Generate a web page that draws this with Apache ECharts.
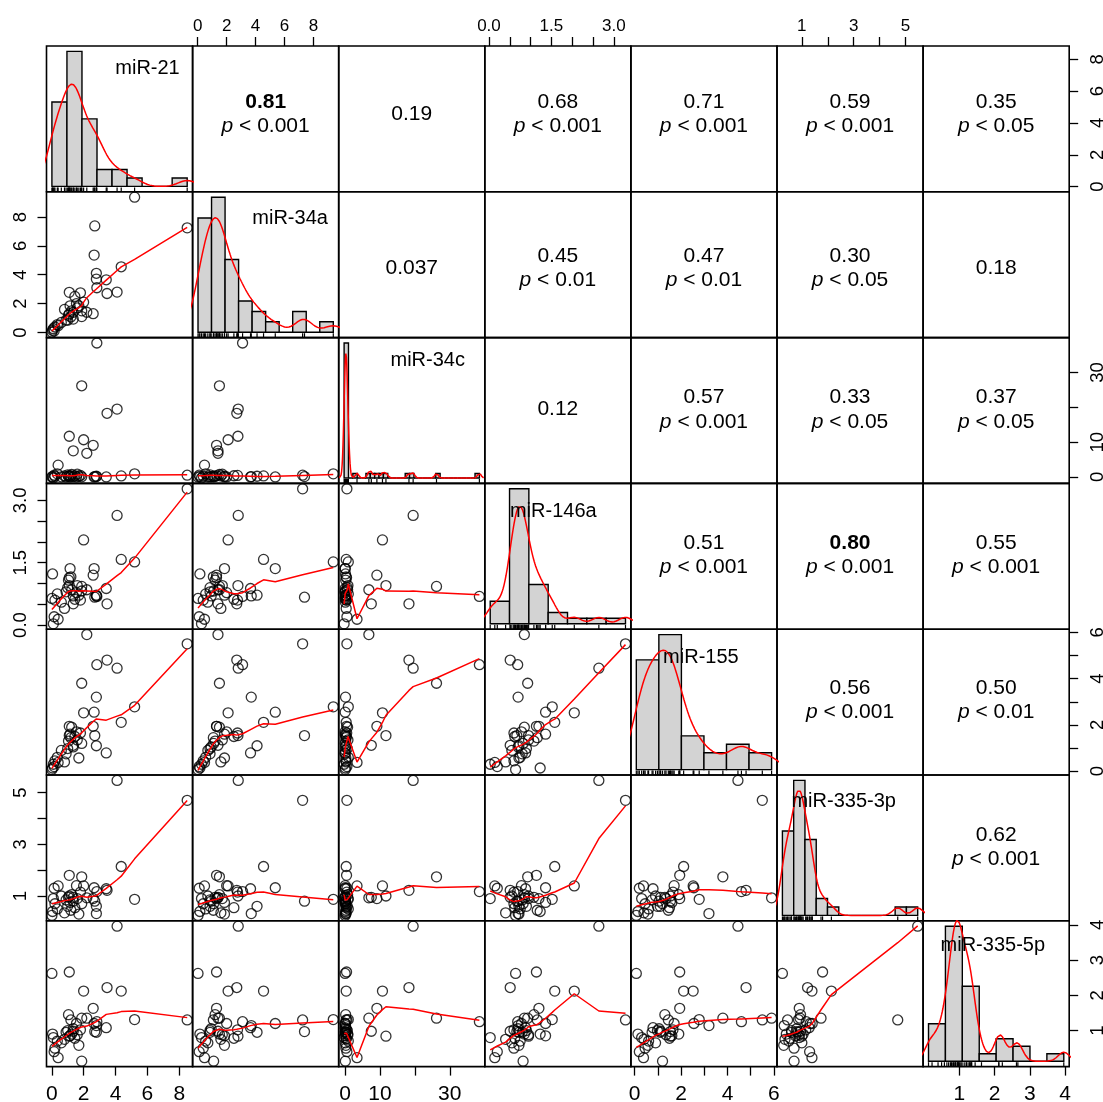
<!DOCTYPE html>
<html><head><meta charset="utf-8">
<script src="https://cdn.jsdelivr.net/npm/echarts@6/dist/echarts.min.js"></script>
<style>html,body{margin:0;padding:0;background:#fff}#c{width:1103px;height:1102px}</style>
</head><body><div id="c"></div>
<script>
// ---- data (40 samples, index-aligned) ----
const varNames = ['miR-21','miR-34a','miR-34c','miR-146a','miR-155','miR-335-3p','miR-335-5p'];
const miR21   = [8.5,5.2,2.7,2.66,4.36,2.8,3.42,2.8,2.83,1.88,4.1,3.47,1.1,2.0,2.6,1.35,2.2,0.4,
                 0.01,0.05,0.1,0.15,0.2,0.35,0.6,0.8,0.9,1.0,1.05,1.1,1.15,1.2,1.25,1.35,1.45,1.55,1.6,1.7,1.8,1.88];
const miR34a  = [7.25,9.37,7.38,5.36,4.55,3.7,3.65,4.1,3.1,1.5,2.8,2.7,2.78,2.1,1.3,1.4,1.4,0.47,
                 0.02,0.15,0.26,0.1,0.38,0.55,0.7,1.6,0.85,0.85,1.2,1.3,1.85,1.08,1.5,0.93,2.5,2.0,1.7,1.85,2.75,1.1];
const miR34c  = [0.5,0.9,0.1,0.0,0.3,0.1,0.0,0.2,38.5,26.2,19.5,18.3,11.7,10.7,9.1,7.5,6.8,3.4,
                 0.0,0.1,-0.3,0.5,0.2,0.9,0.05,0.3,0.0,0.6,0.15,0.4,0.0,0.25,0.7,0.1,0.35,0.0,0.8,0.2,0.45,0.05];
const miR146a = [3.28,1.52,0.67,1.36,1.58,0.7,0.88,0.72,0.69,0.93,2.64,0.51,0.95,2.05,1.2,0.51,0.85,0.14,
                 0.64,1.23,0.03,0.2,0.6,0.75,0.55,0.4,0.8,0.9,1.08,1.14,1.36,1.16,0.85,0.7,0.62,0.78,0.95,0.72,0.6,0.82];
const miR155  = [5.5,2.78,1.54,2.55,2.11,3.2,0.79,1.1,4.6,3.8,4.45,4.8,1.54,2.52,1.94,1.12,5.9,0.38,
                 0.07,0.14,0.3,0.2,0.45,0.6,0.9,0.4,0.75,0.98,1.3,1.94,1.6,1.45,1.9,1.05,1.5,1.7,1.35,0.57,1.65,1.2];
const miR335_3p = [4.7,0.87,0.8,1.32,2.14,0.32,1.28,0.6,1.17,1.74,5.47,1.22,1.0,1.39,0.9,0.95,0.93,1.39,
                 0.25,0.4,0.9,1.3,0.7,0.5,1.0,0.35,0.85,0.6,0.95,1.8,0.75,0.45,1.05,0.8,0.55,1.4,0.9,0.3,1.15,0.7];
const miR335_5p = [1.3,1.31,0.97,1.2,2.12,1.14,1.08,0.95,1.25,1.35,3.96,2.22,0.84,2.12,1.63,0.98,1.35,0.23,
                 2.62,0.9,0.8,0.4,0.5,0.7,0.65,0.75,0.95,1.0,1.45,2.66,0.85,1.3,0.9,1.05,0.78,1.2,0.88,0.58,1.02,0.13];

// correlation text (upper triangle, row by row)
const corrR = ['0.81','0.19','0.68','0.71','0.59','0.35','0.037','0.45','0.47','0.30','0.18','0.12','0.57','0.33','0.37','0.51','0.80','0.55','0.56','0.50','0.62'];
const corrP = ['< 0.001','','< 0.001','< 0.001','< 0.001','< 0.05','','< 0.01','< 0.01','< 0.05','','','< 0.001','< 0.05','< 0.05','< 0.001','< 0.001','< 0.001','< 0.001','< 0.01','< 0.001'];
const corrBold = [1,0,0,0,0,0,0,0,0,0,0,0,0,0,0,0,1,0,0,0,0];

// axis ticks / labels per variable
const tickVals  = [[0,2,4,6,8],[0,2,4,6,8],[0,10,20,30],[0,0.5,1,1.5,2,2.5,3],[0,1,2,3,4,5,6],[1,2,3,4,5],[1,2,3,4]];
const labelVals = [[0,2,4,6,8],[0,2,4,6,8],[0,10,30],[0,1.5,3],[0,2,4,6],[1,3,5],[1,2,3,4]];
const labelDec  = [0,0,0,1,0,0,0];
const histBins  = [9,10,31,7,6,12,8];

// ---- layout ----
const vars = [miR21,miR34a,miR34c,miR146a,miR155,miR335_3p,miR335_5p];
const NV = 7;
const X0 = 46.5, Y0 = 46, W = 146.1, H = 145.8;
const FONT = '"Liberation Sans", Arial, Helvetica, sans-serif';
const diagLabelPos = [[101,22.5],[97.5,26.5],[89,23],[68.5,28.5],[70,28],[66.7,26],[69.7,24.5]];
const rowShift = [-4.5,3.5,-1,-1,-2,-0.5,0];

// ---- stats helpers ----
const ext = v => { const mn=Math.min(...v), mx=Math.max(...v), r=mx-mn; return [mn-0.04*r, mx+0.04*r]; };
const ranges = vars.map(ext);
function quantile(x,p){ const s=x.slice().sort((a,b)=>a-b); const h=(s.length-1)*p; const lo=Math.floor(h); return lo+1<s.length? s[lo]+(h-lo)*(s[lo+1]-s[lo]) : s[lo]; }
function sd(x){ const m=x.reduce((a,b)=>a+b,0)/x.length; return Math.sqrt(x.reduce((a,b)=>a+(b-m)*(b-m),0)/(x.length-1)); }
function bwNrd0(x){ const s=sd(x); const q=quantile(x,.75)-quantile(x,.25); let lo=Math.min(s,q/1.34); if(!(lo>0)) lo = s||Math.abs(x[0])||1; return 0.9*lo*Math.pow(x.length,-0.2); }
function kde(x){ const bw=bwNrd0(x); const lo=Math.min(...x)-3*bw, hi=Math.max(...x)+3*bw; const out=[];
  for(let k=0;k<512;k++){ const t=lo+(hi-lo)*k/511; let s=0; for(const v of x){ const z=(t-v)/bw; s+=Math.exp(-0.5*z*z);} out.push([t, s/(x.length*bw*Math.sqrt(2*Math.PI))]); }
  return out; }
function hist(x,nb){ const mn=Math.min(...x), mx=Math.max(...x), w=(mx-mn)/nb; const c=new Array(nb).fill(0);
  for(const v of x){ let k=Math.ceil((v-mn)/w - 1e-9)-1; if(k<0)k=0; if(k>=nb)k=nb-1; c[k]++; }
  return c.map((n,k)=>[mn+k*w, mn+(k+1)*w, n/(x.length*w)]); }
function lowest(x,y,n,xs,nleft,nright,w,userw,rw){
  const range=x[n-1]-x[0]; const h=Math.max(xs-x[nleft], x[nright]-xs); const h9=.999*h, h1=.001*h;
  let a=0, j=nleft;
  while(j<n){ w[j]=0; const r=Math.abs(x[j]-xs);
    if(r<=h9){ w[j] = r<=h1 ? 1 : Math.pow(1-Math.pow(r/h,3),3); if(userw) w[j]*=rw[j]; a+=w[j]; }
    else if(x[j]>xs) break; j++; }
  const nrt=j-1; if(a<=0) return null;
  for(j=nleft;j<=nrt;j++) w[j]/=a;
  if(h>0){ a=0; for(j=nleft;j<=nrt;j++) a+=w[j]*x[j]; let b=xs-a, c=0;
    for(j=nleft;j<=nrt;j++) c+=w[j]*(x[j]-a)*(x[j]-a);
    if(Math.sqrt(c)>.001*range){ b/=c; for(j=nleft;j<=nrt;j++) w[j]*=(b*(x[j]-a)+1); } }
  let ys=0; for(j=nleft;j<=nrt;j++) ys+=w[j]*y[j]; return ys; }
function lowess(xin,yin,f=2/3,nsteps=3){
  const n=xin.length; const idx=[...Array(n).keys()].sort((i,j)=>xin[i]-xin[j]);
  const x=idx.map(i=>xin[i]), y=idx.map(i=>yin[i]);
  const delta=0.01*(x[n-1]-x[0]); const ns=Math.max(2,Math.min(n,Math.floor(f*n+1e-7)));
  const ys=new Array(n).fill(0), rw=new Array(n).fill(1), res=new Array(n).fill(0), w=new Array(n).fill(0);
  for(let iter=1; iter<=nsteps+1; iter++){
    let nleft=0, nright=ns-1, last=-1, i=0;
    for(;;){
      if(nright<n-1){ const d1=x[i]-x[nleft], d2=x[nright+1]-x[i]; if(d1>d2){ nleft++; nright++; continue; } }
      const v=lowest(x,y,n,x[i],nleft,nright,w,iter>1,rw); ys[i]= v===null? y[i] : v;
      if(last<i-1){ const den=x[i]-x[last]; for(let j=last+1;j<i;j++){ const al=(x[j]-x[last])/den; ys[j]=al*ys[i]+(1-al)*ys[last]; } }
      last=i; const cut=x[last]+delta;
      for(i=last+1;i<n;i++){ if(x[i]>cut) break; if(x[i]===x[last]){ ys[i]=ys[last]; last=i; } }
      i=Math.max(last+1,i-1);
      if(last>=n-1) break;
    }
    for(let k=0;k<n;k++) res[k]=y[k]-ys[k];
    let sc=0; for(let k=0;k<n;k++) sc+=Math.abs(res[k]); sc/=n;
    if(iter>nsteps) break;
    const srt=res.map(Math.abs).sort((a,b)=>a-b); const m1=Math.floor(n/2);
    const cmad = n%2===0 ? 3*(srt[m1]+srt[n-m1-1]) : 6*srt[m1];
    if(cmad<1e-7*sc) break;
    const c9=.999*cmad, c1=.001*cmad;
    for(let k=0;k<n;k++){ const r=Math.abs(res[k]); rw[k]= r<=c1?1: r<=c9? Math.pow(1-Math.pow(r/cmad,2),2):0; }
  }
  return x.map((v,k)=>[v,ys[k]]);
}

// ---- build option ----
const grids=[], xAxes=[], yAxes=[], series=[], graphic=[];
function axisCfg(kind, gi, v, pos, show, fontSize, margin){
  return { type:'value', gridIndex:gi, min:ranges[v][0], max:ranges[v][1], position:pos,
    axisLine:{show:false, onZero:false}, splitLine:{show:false},
    axisTick:{show:show, length:9, inside:false, lineStyle:{color:'#000',width:1.3}, customValues:tickVals[v]},
    axisLabel:{show:show, customValues:labelVals[v], formatter:(val)=> labelDec[v]? Number(val).toFixed(1): String(Math.round(val)),
      color:'#000', fontSize:fontSize, fontFamily:FONT, margin:margin, rotate: kind==='y'?90:0 } };
}
for(let i=0;i<NV;i++){
  for(let j=0;j<NV;j++){
    const gi=i*NV+j;
    grids.push({left:X0+j*W, top:Y0+i*H, width:W, height:H, show:true, borderColor:'#000', borderWidth:1.6,
      backgroundColor:'rgba(0,0,0,0)', containLabel:false, outerBoundsMode:'none'});
    let xShow=false, xPos='bottom', xFs=17, xM=12;
    if(i===0 && j%2===1){ xShow=true; xPos='top'; xFs=17; xM=11; }
    if(i===NV-1 && j%2===0){ xShow=true; xPos='bottom'; xFs=21; xM=17; }
    xAxes.push(axisCfg('x', gi, j, xPos, xShow, xFs, xM));
    if(i===j){
      const hb=hist(vars[i],histBins[i]); const M=Math.max(...hb.map(b=>b[2]));
      yAxes.push({type:'value', gridIndex:gi, min:-0.04*M, max:1.04*M, show:false, splitLine:{show:false}, axisLine:{onZero:false}});
      series.push({type:'custom', xAxisIndex:gi, yAxisIndex:gi, clip:true, data:hb, encode:{x:[0,1],y:2},
        renderItem:(p,api)=>{ const a=api.coord([api.value(0),0]), b=api.coord([api.value(1),api.value(2)]);
          return {type:'rect', shape:{x:a[0],y:b[1],width:b[0]-a[0],height:a[1]-b[1]}, style:{fill:'#d3d3d3',stroke:'#000',lineWidth:1.4}}; }});
      series.push({type:'line', xAxisIndex:gi, yAxisIndex:gi, data:kde(vars[i]), showSymbol:false, clip:true,
        lineStyle:{color:'#ff0000',width:1.5}, silent:true});
      const ymin=-0.04*M;
      series.push({type:'custom', xAxisIndex:gi, yAxisIndex:gi, clip:false, data:vars[i].map(v=>[v]), encode:{x:0},
        renderItem:(p,api)=>{ const a=api.coord([api.value(0),ymin]);
          return {type:'line', shape:{x1:a[0],y1:a[1],x2:a[0],y2:a[1]-4.4}, style:{stroke:'#000',lineWidth:1.2}}; }});
      const lp=diagLabelPos[i];
      graphic.push({type:'text', z:100, x:X0+j*W+lp[0], y:Y0+i*H+lp[1], style:{text:varNames[i], font:'20px '+FONT, fill:'#000', align:'center', verticalAlign:'middle'}});
    } else {
      let yShow=false, yPos='left', yM=16;
      if(j===0 && i%2===1){ yShow=true; yPos='left'; yM=16; }
      if(j===NV-1 && i%2===0){ yShow=true; yPos='right'; yM=19; }
      yAxes.push(axisCfg('y', gi, i, yPos, yShow, 18.5, yM));
      if(i>j){
        const pts=vars[j].map((v,k)=>[v, vars[i][k]]);
        series.push({type:'scatter', xAxisIndex:gi, yAxisIndex:gi, data:pts, symbol:'circle', symbolSize:10, clip:false,
          itemStyle:{color:'rgba(0,0,0,0)', borderColor:'#000', borderWidth:1.3}});
        series.push({type:'line', xAxisIndex:gi, yAxisIndex:gi, data:lowess(vars[j],vars[i]), showSymbol:false, clip:true,
          lineStyle:{color:'#ff0000',width:1.5}, silent:true});
      }
    }
  }
}
// right axis for the last row (diagonal panel)
yAxes.push(axisCfg('y', NV*NV-1, NV-1, 'right', true, 18.5, 19));

// correlation texts
let ci=0;
for(let i=0;i<NV;i++) for(let j=i+1;j<NV;j++){
  const cx=X0+j*W+W/2, cy=Y0+i*H+H/2+rowShift[i];
  const rTxt=corrR[ci], pTxt=corrP[ci], bold=corrBold[ci];
  const f1=(bold?'bold ':'')+'21px '+FONT;
  if(pTxt){
    graphic.push({type:'text', z:100, x:cx, y:cy-12.25, style:{text:rTxt, font:f1, fill:'#000', align:'center', verticalAlign:'middle'}});
    graphic.push({type:'text', z:100, x:cx, y:cy+12.25, style:{text:'{i|p}{n| '+pTxt+'}', align:'center', verticalAlign:'middle', fill:'#000',
      rich:{i:{font:'italic 21px '+FONT, fill:'#000'}, n:{font:'21px '+FONT, fill:'#000'}}}});
  } else {
    graphic.push({type:'text', z:100, x:cx, y:cy, style:{text:rTxt, font:f1, fill:'#000', align:'center', verticalAlign:'middle'}});
  }
  ci++;
}

const chart=echarts.init(document.getElementById('c'),null,{renderer:'canvas'});
chart.setOption({animation:false, backgroundColor:'#fff', grid:grids, xAxis:xAxes, yAxis:yAxes, series:series, graphic:graphic});
</script></body></html>
